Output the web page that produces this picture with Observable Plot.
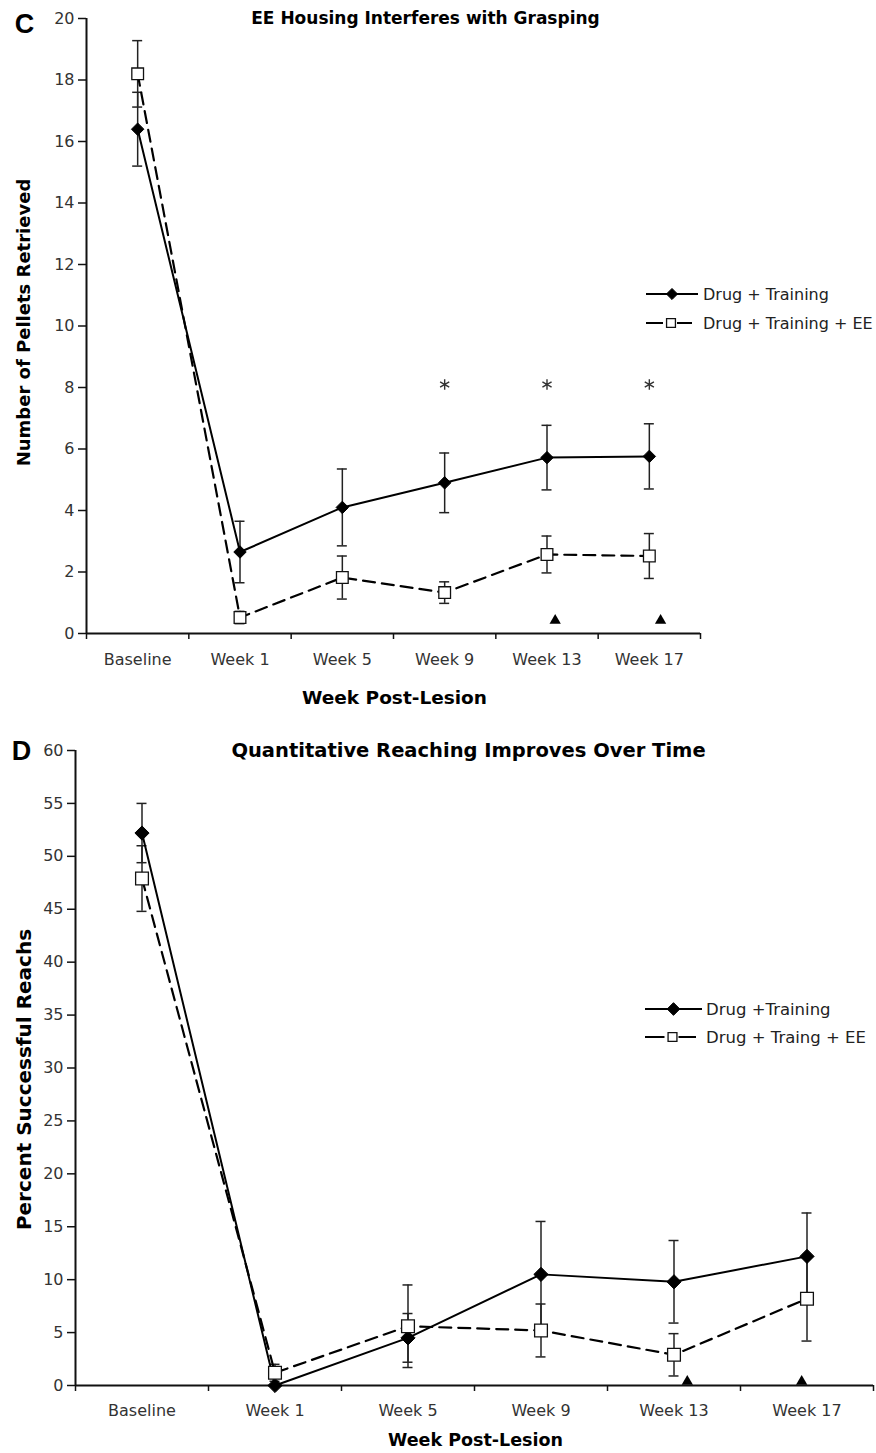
<!DOCTYPE html>
<html><head><meta charset="utf-8">
<script src="https://cdn.jsdelivr.net/npm/d3@7"></script>
<script src="https://cdn.jsdelivr.net/npm/@observablehq/plot@0.6"></script>
<style>
body{margin:0;background:#fff;font-family:"DejaVu Sans",Verdana,sans-serif;}
.panel{position:relative;width:876px;}
.panel svg.legend{position:absolute;left:0;top:0;pointer-events:none;overflow:visible;}
</style></head><body>
<div id="c" class="panel"></div>
<div id="d" class="panel"></div>
<script>
// ---------- data ----------
const categories = ["Baseline", "Week 1", "Week 5", "Week 9", "Week 13", "Week 17"];

// Panel C: Number of Pellets Retrieved
const cTitle = "EE Housing Interferes with Grasping";
const cYLabel = "Number of Pellets Retrieved";
const cSeriesNames = ["Drug + Training", "Drug + Training + EE"];
const cTrain = [16.4, 2.65, 4.1, 4.9, 5.72, 5.76];
const cTrainErr = [1.2, 1.0, 1.25, 0.97, 1.05, 1.06];
const cEE = [18.2, 0.52, 1.82, 1.33, 2.57, 2.52];
const cEEErr = [1.08, 0.2, 0.7, 0.35, 0.6, 0.73];
const cYTicks = [0, 2, 4, 6, 8, 10, 12, 14, 16, 18, 20];
const cStarX = [3, 4, 5];
const cStarY = [8.1, 8.1, 8.1];
const cTriX = [4.08, 5.11];
const cTriY = [0.42, 0.42];

// Panel D: Percent Successful Reachs
const dTitle = "Quantitative Reaching Improves Over Time";
const dYLabel = "Percent Successful Reachs";
const dSeriesNames = ["Drug +Training", "Drug + Traing + EE"];
const dTrain = [52.2, 0, 4.5, 10.5, 9.8, 12.2];
const dTrainErr = [2.8, 0, 2.3, 5.0, 3.9, 4.1];
const dEE = [47.9, 1.2, 5.6, 5.2, 2.9, 8.2];
const dEEErr = [3.1, 0.8, 3.9, 2.5, 2.0, 4.0];
const dYTicks = [0, 5, 10, 15, 20, 25, 30, 35, 40, 45, 50, 55, 60];
const dStarX = [];
const dStarY = [];
const dTriX = [4.1, 4.96];
const dTriY = [0.38, 0.38];

const xDomain = [-0.5, 5.5];
const xBoundaries = d3.range(-0.5, 6, 1);
const xCenters = d3.range(categories.length);

function rows(vals, errs) {
  return vals.map((v, i) => ({i, v, err: errs[i]}));
}

function makePanel(cfg) {
  const W = 876;
  const tr = rows(cfg.train, cfg.trainErr);
  const ee = rows(cfg.ee, cfg.eeErr);
  const pxPerUnit = (W - cfg.ml - cfg.mr) / (xDomain[1] - xDomain[0]);
  const capHalf = 5 / pxPerUnit;
  const errRows = [...tr, ...ee].filter(d => d.err > 0);
  const capRows = errRows.flatMap(d => [{i: d.i, y: d.v - d.err}, {i: d.i, y: d.v + d.err}]);
  const stars = cfg.starX.map((x, k) => ({x, y: cfg.starY[k]}));
  const tris = cfg.triX.map((x, k) => ({x, y: cfg.triY[k]}));

  const chart = Plot.plot({
    width: W, height: cfg.height,
    marginTop: cfg.mt, marginBottom: cfg.mb, marginLeft: cfg.ml, marginRight: cfg.mr,
    style: {fontFamily: "'DejaVu Sans', Verdana, sans-serif", fontSize: "16px", background: "white", color: "#222", overflow: "visible"},
    x: {domain: xDomain, axis: null},
    y: {domain: [0, cfg.yMax], axis: null},
    marks: [
      // axes
      Plot.axisY(cfg.yTicks, {tickSize: 8, tickPadding: 4, fontSize: 16, label: null, strokeWidth: 1.5, stroke: "#111", fill: "#333"}),
      Plot.axisX(xBoundaries, {tickSize: 6, tickFormat: () => "", label: null, strokeWidth: 1.5, stroke: "#111"}),
      Plot.axisX(xCenters, {tickSize: 0, tickPadding: cfg.xPad, tickFormat: i => categories[i], fontSize: 16, label: null, fill: "#333", style: {letterSpacing: "0.8px"}}),
      Plot.ruleX([xDomain[0]], {stroke: "#111", strokeWidth: 2}),
      Plot.ruleY([0], {stroke: "#111", strokeWidth: 2}),
      // error bars
      Plot.ruleX(errRows, {x: "i", y1: d => d.v - d.err, y2: d => d.v + d.err, stroke: "#222", strokeWidth: 1.5}),
      Plot.ruleY(capRows, {x1: d => d.i - capHalf, x2: d => d.i + capHalf, y: "y", stroke: "#222", strokeWidth: 1.5}),
      // lines
      Plot.line(tr, {x: "i", y: "v", stroke: "#000", strokeWidth: 2}),
      Plot.line(ee, {x: "i", y: "v", stroke: "#000", strokeWidth: 2.2, strokeDasharray: "12,7"}),
      // markers
      Plot.dot(tr, {x: "i", y: "v", symbol: "diamond2", r: cfg.dr, fill: "#000", stroke: "#000", strokeWidth: 1}),
      Plot.dot(ee, {x: "i", y: "v", symbol: "square", r: cfg.sr, fill: "white", stroke: "#111", strokeWidth: 1.3}),
      // significance
      Plot.dot(stars, {x: "x", y: "y", symbol: "asterisk", r: 5, stroke: "#333", strokeWidth: 1.4}),
      Plot.dot(tris, {x: "x", y: "y", symbol: "triangle", r: 4.2, fill: "#000"}),
      // texts
      Plot.text([cfg.title], {frameAnchor: "top", dx: cfg.titleDx, dy: 0, lineAnchor: "middle", fontWeight: "bold", fontSize: cfg.titleSize, fill: "#000"}),
      Plot.text([cfg.letter], {frameAnchor: "top-left", dx: cfg.letterDx, dy: cfg.letterDy, textAnchor: "middle", lineAnchor: "middle", fontWeight: "bold", fontSize: 27, fontFamily: "'Liberation Sans', Arial, sans-serif", fill: "#000"}),
      Plot.text([cfg.ylabel], {frameAnchor: "left", dx: cfg.ylDx, dy: cfg.ylDy, rotate: -90, textAnchor: "middle", lineAnchor: "middle", fontWeight: "bold", fontSize: cfg.ylSize, fill: "#000"}),
      Plot.text(["Week Post-Lesion"], {frameAnchor: "bottom", dx: cfg.xlDx, dy: cfg.xlDy, textAnchor: "middle", lineAnchor: "middle", fontWeight: "bold", fontSize: cfg.xlSize, fill: "#000"})
    ]
  });

  const el = document.getElementById(cfg.id);
  el.style.height = cfg.height + "px";
  el.appendChild(chart);

  // legend overlay
  const svg = d3.select(el).append("svg").attr("class", "legend")
    .attr("width", W).attr("height", cfg.height);
  const L = cfg.legend;
  // row 1: solid line with diamond
  svg.append("line").attr("x1", L.x1).attr("x2", L.x2).attr("y1", L.y1).attr("y2", L.y1)
    .attr("stroke", "#000").attr("stroke-width", 2);
  svg.append("path").attr("d", d3.symbol(d3.symbolDiamond2, Math.PI * cfg.dr * cfg.dr * 0.8)())
    .attr("transform", `translate(${(L.x1 + L.x2) / 2},${L.y1})`).attr("fill", "#000").attr("stroke", "#000");
  svg.append("text").attr("x", L.tx).attr("y", L.y1).attr("dy", "0.35em")
    .attr("font-family", "'DejaVu Sans', Verdana, sans-serif").attr("font-size", L.size).attr("fill", "#222")
    .text(cfg.names[0]);
  // row 2: dashed with square
  const mid = (L.x1 + L.x2) / 2;
  svg.append("line").attr("x1", L.x1).attr("x2", mid - 9).attr("y1", L.y2).attr("y2", L.y2)
    .attr("stroke", "#000").attr("stroke-width", 2);
  svg.append("line").attr("x1", mid + 5).attr("x2", L.x2 - 6).attr("y1", L.y2).attr("y2", L.y2)
    .attr("stroke", "#000").attr("stroke-width", 2);
  svg.append("path").attr("d", d3.symbol(d3.symbolSquare, Math.PI * 5 * 5)())
    .attr("transform", `translate(${mid - 1},${L.y2})`).attr("fill", "white").attr("stroke", "#111").attr("stroke-width", 1.3);
  svg.append("text").attr("x", L.tx).attr("y", L.y2).attr("dy", "0.35em")
    .attr("font-family", "'DejaVu Sans', Verdana, sans-serif").attr("font-size", L.size).attr("fill", "#222")
    .text(cfg.names[1]);
}

makePanel({
  id: "c", height: 710, mt: 18, mb: 77, ml: 86, mr: 176,
  yMax: 20, yTicks: cYTicks, train: cTrain, trainErr: cTrainErr, ee: cEE, eeErr: cEEErr,
  starX: cStarX, starY: cStarY, triX: cTriX, triY: cTriY,
  title: cTitle, letter: "C", ylabel: cYLabel, names: cSeriesNames,
  xPad: 20, dr: 5.6, sr: 6.6,
  titleSize: 17, ylSize: 18, xlSize: 18.5,
  titleDx: 32, letterDx: -62, letterDy: 6, ylDx: -62, ylDy: -3.5, xlDx: 1, xlDy: 65,
  legend: {x1: 646, x2: 698, tx: 703, y1: 294, y2: 323, size: 16}
});

makePanel({
  id: "d", height: 743, mt: 40, mb: 68, ml: 75, mr: 3,
  yMax: 60, yTicks: dYTicks, train: dTrain, trainErr: dTrainErr, ee: dEE, eeErr: dEEErr,
  starX: dStarX, starY: dStarY, triX: dTriX, triY: dTriY,
  title: dTitle, letter: "D", ylabel: dYLabel, names: dSeriesNames,
  xPad: 19, dr: 6.4, sr: 7.2,
  titleSize: 19.5, ylSize: 20, xlSize: 17.5,
  titleDx: -6, letterDx: -54, letterDy: 1, ylDx: -51, ylDy: 11.5, xlDx: 1, xlDy: 55,
  legend: {x1: 645, x2: 702, tx: 706, y1: 299, y2: 327, size: 16.5}
});
</script>
</body></html>
